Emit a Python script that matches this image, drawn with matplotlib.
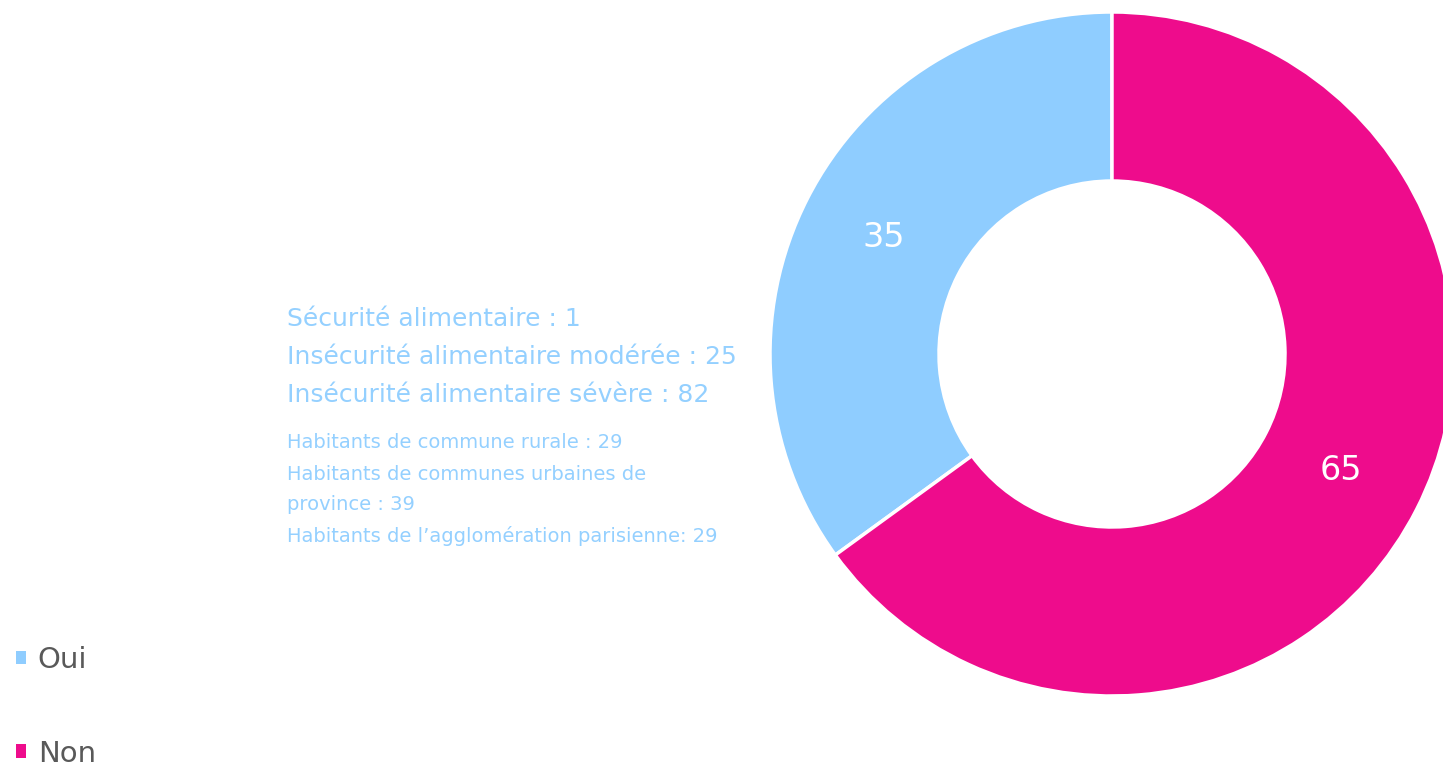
import numpy as np
import matplotlib.pyplot as plt
from matplotlib.patches import Patch

# données
categories = ['Oui', 'Non']
valeurs = [35, 65]
couleurs = ['#8FCDFF', '#EE0C8C']
notes_grandes = ['Sécurité alimentaire : 1',
                 'Insécurité alimentaire modérée : 25',
                 'Insécurité alimentaire sévère : 82']
notes_petites = ['Habitants de commune rurale : 29',
                 'Habitants de communes urbaines de',
                 'province : 39',
                 'Habitants de l\u2019agglomération parisienne: 29']

plt.rcParams['font.family'] = ['DejaVu Sans']
W, H = 1443, 767
fig = plt.figure(figsize=(W / 100, H / 100), dpi=100)
ax = fig.add_axes([0, 0, 1, 1])

# anneau (coordonnées en pixels)
cx, cy, R = 1112, H - 354, 342
wedges, _ = ax.pie(valeurs, colors=couleurs, startangle=90, counterclock=True,
                   center=(cx, cy), radius=R, frame=True,
                   wedgeprops=dict(width=R - 173, edgecolor='white', linewidth=2.5))
ax.set_xlim(0, W)
ax.set_ylim(0, H)
ax.set_aspect('equal')
ax.axis('off')

for w, v in zip(wedges, valeurs):
    a = np.deg2rad((w.theta1 + w.theta2) / 2)
    ax.text(cx + 0.75 * R * np.cos(a), cy + 0.75 * R * np.sin(a), str(v),
            ha='center', va='center', color='white', fontsize=24)

# annotations
for i, t in enumerate(notes_grandes):
    ax.text(287, H - 319 - 38 * i, t, ha='left', va='center',
            color='#94D0FF', fontsize=18)
for i, t in enumerate(notes_petites):
    ax.text(287, H - 443 - 31 * i, t, ha='left', va='center',
            color='#94D0FF', fontsize=14)

# légende
handles = [Patch(facecolor=c) for c in couleurs]
leg = fig.legend(handles, categories, loc='lower left', bbox_to_anchor=(0.003, -0.016),
                 frameon=False, fontsize=21, handlelength=0.35, handleheight=0.35,
                 handletextpad=0.4, labelspacing=2.25, borderaxespad=0)
for t in leg.get_texts():
    t.set_color('#595959')

fig.savefig('out.png', dpi=100)
